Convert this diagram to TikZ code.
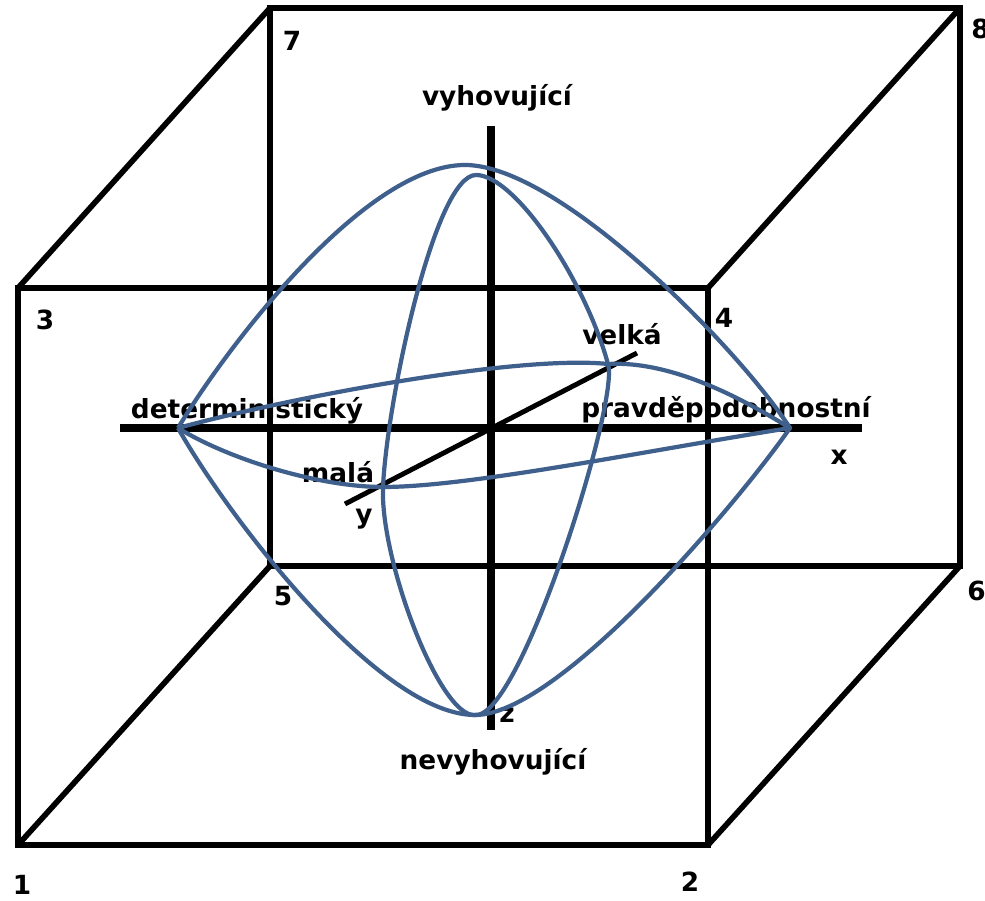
\documentclass[tikz,border=0pt]{standalone}
\usepackage{fontspec}
\setmainfont{DejaVu Sans}
\usetikzlibrary{positioning}
\definecolor{cEdge}{HTML}{000000}
\definecolor{cMer}{HTML}{3F5F8C}
\tikzset{
  edge/.style={line width=3pt, cEdge, line join=miter},
  diag/.style={line width=3.2pt, cEdge},
  axis/.style={line width=4.6pt, cEdge},
  daxis/.style={line width=2.8pt, cEdge},
  mer/.style={line width=2.4pt, cMer, line join=round},
  lbl/.style={font=\fontsize{15}{18}\selectfont\bfseries, inner sep=0pt},
  num/.style={lbl},
}

\begin{document}
\begin{tikzpicture}[x=0.2mm, y=-0.2mm]
    \useasboundingbox (0,0) rectangle (985,901);

    % cube corners: 1-4 front, 5-8 back
    \coordinate (c1) at (18,845);
    \coordinate (c2) at (708,845);
    \coordinate (c3) at (18,288);
    \coordinate (c4) at (708,288);
    \coordinate (c5) at (270,566);
    \coordinate (c6) at (960,566);
    \coordinate (c7) at (270,8);
    \coordinate (c8) at (960,8);

    \draw[edge] (c7) -- (c8) -- (c6) -- (c5) -- cycle;
    \draw[edge] (c3) -- (c4) -- (c2) -- (c1) -- cycle;
    \draw[diag] (c3) -- (c7);
    \draw[diag] (c4) -- (c8);
    \draw[diag] (c1) -- (c5);
    \draw[diag] (c2) -- (c6);

    \node[num] (n1) at (22,885) {1};
    \node[num] (n2) at (690,882) {2};
    \node[num] (n3) at (45,320) {3};
    \node[num] (n4) at (724,318) {4};
    \node[num] (n5) at (283,596) {5};
    \node[num, anchor=west] (n6) at (967,591) {6};
    \node[num] (n7) at (292,41) {7};
    \node[num, anchor=west] (n8) at (971,29) {8};

    % axes
    \coordinate (xa) at (120,428);
    \coordinate (xb) at (862,428);
    \coordinate (za) at (491,126);
    \coordinate (zb) at (491,730);
    \coordinate (ya) at (345,504);
    \coordinate (yb) at (637,353);
    \draw[axis] (xa) -- (xb);
    \draw[axis] (za) -- (zb);
    \draw[daxis] (ya) -- (yb);

    \node[lbl, anchor=base] (top) at (497,106) {vyhovující};
    \node[lbl, anchor=base] (bot) at (493,770) {nevyhovující};
    \node[lbl, anchor=base] (det) at (247,419) {deterministický};
    \node[lbl, anchor=base] (prob) at (726,418) {pravděpodobnostní};
    \node[lbl, anchor=base] (big) at (622,345) {velká};
    \node[lbl, anchor=base] (small) at (338,483) {malá};
    \node[lbl, anchor=base] (lx) at (839,465) {x};
    \node[lbl, anchor=base] (ly) at (364,524) {y};
    \node[lbl, anchor=base] (lz) at (507,723) {z};

    % spindle
    \coordinate (L) at (178,428);
    \coordinate (R) at (790,428);
    \coordinate (T) at (465,165);
    \coordinate (Tn) at (476,175);
    \coordinate (B) at (475,715);
    \coordinate (V) at (608,364);
    \coordinate (M) at (383,487);

    \draw[mer] (L) .. controls (228,345) and (365,165) .. (T)
      .. controls (560,165) and (740,350) .. (R)
      .. controls (740,500) and (560,715) .. (B)
      .. controls (380,715) and (230,520) .. (L);
    \draw[mer] (L) .. controls (300,395) and (520,355) .. (V)
      .. controls (680,360) and (760,410) .. (R)
      .. controls (650,450) and (470,487) .. (M)
      .. controls (320,487) and (230,460) .. (L);
    \draw[mer] (Tn) .. controls (515,175) and (585,280) .. (V)
      .. controls (620,400) and (520,720) .. (B)
      .. controls (440,718) and (380,560) .. (M)
      .. controls (387,400) and (435,175) .. (Tn);
\end{tikzpicture}
\end{document}
